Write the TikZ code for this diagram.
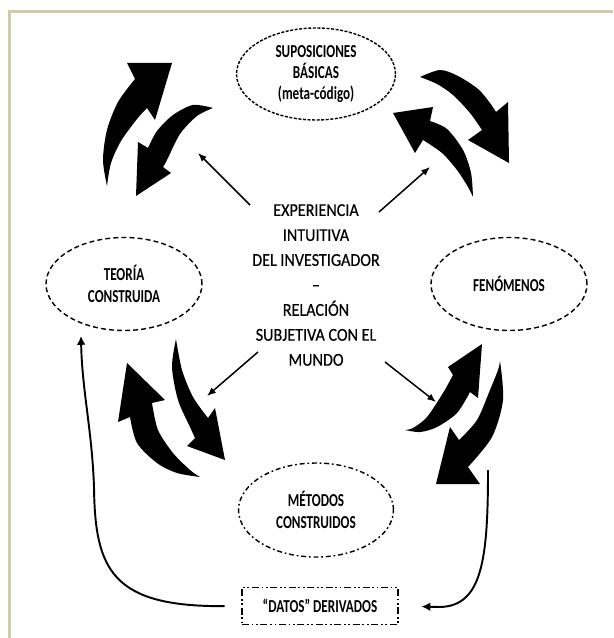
\documentclass[tikz,border=0pt]{standalone}
\usepackage{fontspec}
\setmainfont{Carlito}
\newfontfamily\ovalfont[FakeStretch=0.72]{Carlito}
\newfontfamily\midfont[FakeStretch=0.89,FakeBold=0.4]{Carlito}
\usepackage{tikz}
\usetikzlibrary{arrows.meta,shapes.geometric,positioning}
\definecolor{framebeige}{RGB}{208,204,168}

\begin{document}
\begin{tikzpicture}[x=0.02cm,y=-0.02cm,
  oval/.style={draw,ellipse,line width=0.8pt,inner sep=0pt,align=center,
    minimum width=3.12cm,minimum height=1.86cm,
    font=\ovalfont\bfseries\fontsize{10.4}{12.2}\selectfont},
  fine dash/.style={dash pattern=on 1.7pt off 0.9pt},
  mid dash/.style={dash pattern=on 2.8pt off 1.8pt},
  dotdash/.style={dash pattern=on 2.8pt off 1.6pt on 1pt off 1.6pt},
  dotdotdash/.style={dash pattern=on 4pt off 1.5pt on 1pt off 1.5pt on 1pt off 1.5pt},
  bigarrow/.style={fill=black},
  thinarrow/.style={line width=0.85pt,-{Latex[length=5pt,width=4pt]}},
  longarrow/.style={line width=1.1pt,-{Latex[length=5pt,width=5pt]}}]
\useasboundingbox (0,0) rectangle (613,638);
\fill[white] (0,0) rectangle (613,638);
\draw[framebeige,line width=1.5pt] (9.3,638) -- (9.3,11.3) -- (613,11.3);

\node[oval,fine dash,minimum width=3.18cm,minimum height=1.84cm] (sup) at (316,74) {SUPOSICIONES\\BÁSICAS\\(meta-código)};
\node[oval,mid dash] (teo) at (124,284) {TEORÍA\\CONSTRUIDA};
\node[oval,mid dash] (fen) at (509,284) {FENÓMENOS};
\node[oval,dotdash,minimum width=3.1cm,minimum height=1.88cm] (met) at (316,510) {MÉTODOS\\CONSTRUIDOS};
\node[draw,dotdotdash,line width=0.8pt,minimum width=3.12cm,minimum height=0.74cm,
  font=\ovalfont\bfseries\fontsize{10.4}{12.2}\selectfont] (dat) at (320,606) {“DATOS” DERIVADOS};
\node[align=center,font=\midfont\fontsize{10.3}{14.2}\selectfont] (ctr) at (316,285)
  {EXPERIENCIA\\INTUITIVA\\DEL INVESTIGADOR\\–\\RELACIÓN\\SUBJETIVA CON EL\\MUNDO};

% thin arrows out of the centre
\coordinate (ulTail) at (250,205); \coordinate (ulHead) at (198,153);
\coordinate (urTail) at (379,212); \coordinate (urHead) at (430,167);
\coordinate (llTail) at (258,352); \coordinate (llHead) at (207,396);
\coordinate (lrTail) at (385,362); \coordinate (lrHead) at (436,402);
\draw[thinarrow] (ulTail) -- (ulHead);
\draw[thinarrow] (urTail) -- (urHead);
\draw[thinarrow] (llTail) -- (llHead);
\draw[thinarrow] (lrTail) -- (lrHead);

% long arrows round the data box
\coordinate (teoIn) at (81,336);
\coordinate (fenOut) at (488,470);
\draw[longarrow,shorten <=9.5pt] (dat.west) .. controls (112,607) and (95,570) .. (94,487)
  .. controls (92,430) and (82,390) .. (teoIn);
\draw[longarrow,shorten >=13pt] (fenOut) .. controls (488,560) and (482,606) .. (440,607) -- (dat.east);

% block arrows, upper left
\fill[bigarrow] plot[smooth] coordinates {(107,186) (103,160) (107,130) (118,102) (135,79)}
  -- (127,63) -- (172,63) -- (155,120) -- (147,108)
  -- plot[smooth] coordinates {(147,108) (137,119) (121,141) (111,163) (107,186)} -- cycle;
\fill[bigarrow] plot[smooth] coordinates {(213,108) (193,105) (173,115) (157,131) (148,148)}
  -- (138,142) -- (136,196) -- (171,173) -- (163,167)
  -- plot[smooth] coordinates {(163,167) (167,160) (180,134) (197,116) (213,108)} -- cycle;
% upper right
\fill[bigarrow] plot[smooth] coordinates {(420,77) (440,70) (458,76) (478,89) (490,103) (496,112)}
  -- (508,102) -- (509,163) -- (468,140) -- (482,130)
  -- plot[smooth] coordinates {(482,130) (470,113) (453,95) (437,84) (420,77)} -- cycle;
\fill[bigarrow] plot[smooth] coordinates {(473,197) (471,173) (463,150) (447,129) (430,121)}
  -- (433,107) -- (393,113) -- (415,153) -- (423,140)
  -- plot[smooth] coordinates {(423,140) (442,153) (457,170) (468,187) (473,197)} -- cycle;
% lower right
\fill[bigarrow] plot[smooth] coordinates {(405,430) (413,428) (427,417) (443,393) (453,375)}
  -- (448,367) -- (482,344) -- (478,398) -- (470,392)
  -- plot[smooth] coordinates {(470,392) (457,413) (437,427) (420,432) (405,430)} -- cycle;
\fill[bigarrow] plot[smooth] coordinates {(500,361) (503,400) (492,437) (468,467)}
  -- (480,484) -- (436,484) -- (450,427) -- (459,440)
  -- plot[smooth] coordinates {(459,440) (477,420) (490,390) (498,370) (500,361)} -- cycle;
% lower left
\fill[bigarrow] plot[smooth] coordinates {(200,477) (177,473) (157,463) (137,443) (130,417)}
  -- (118,422) -- (127,363) -- (165,400) -- (152,403)
  -- plot[smooth] coordinates {(152,403) (158,430) (173,453) (190,470) (200,477)} -- cycle;
\fill[bigarrow] plot[smooth] coordinates {(176,339) (182,370) (193,397) (208,418)}
  -- (215,408) -- (225,460) -- (187,446) -- (195,438)
  -- plot[smooth] coordinates {(195,438) (190,427) (178,400) (172,367) (176,339)} -- cycle;
\end{tikzpicture}
\end{document}
